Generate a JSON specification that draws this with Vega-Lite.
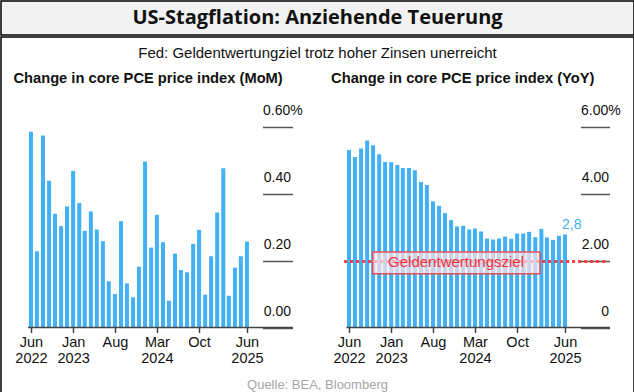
{
  "$schema": "https://vega.github.io/schema/vega-lite/v6.json",
  "padding": 0,
  "background": "white",
  "spacing": 0,
  "config": {"view": {"stroke": null}},
  "datasets": {
    "mom": [
      {"date": "2022-06-01", "v": 0.585}, {"date": "2022-07-01", "v": 0.228}, {"date": "2022-08-01", "v": 0.574},
      {"date": "2022-09-01", "v": 0.439}, {"date": "2022-10-01", "v": 0.340}, {"date": "2022-11-01", "v": 0.303},
      {"date": "2022-12-01", "v": 0.362}, {"date": "2023-01-01", "v": 0.468}, {"date": "2023-02-01", "v": 0.372},
      {"date": "2023-03-01", "v": 0.289}, {"date": "2023-04-01", "v": 0.347}, {"date": "2023-05-01", "v": 0.293},
      {"date": "2023-06-01", "v": 0.258}, {"date": "2023-07-01", "v": 0.138}, {"date": "2023-08-01", "v": 0.100},
      {"date": "2023-09-01", "v": 0.318}, {"date": "2023-10-01", "v": 0.132}, {"date": "2023-11-01", "v": 0.090},
      {"date": "2023-12-01", "v": 0.182}, {"date": "2024-01-01", "v": 0.496}, {"date": "2024-02-01", "v": 0.239},
      {"date": "2024-03-01", "v": 0.337}, {"date": "2024-04-01", "v": 0.255}, {"date": "2024-05-01", "v": 0.080},
      {"date": "2024-06-01", "v": 0.221}, {"date": "2024-07-01", "v": 0.172}, {"date": "2024-08-01", "v": 0.165},
      {"date": "2024-09-01", "v": 0.250}, {"date": "2024-10-01", "v": 0.292}, {"date": "2024-11-01", "v": 0.098},
      {"date": "2024-12-01", "v": 0.213}, {"date": "2025-01-01", "v": 0.344}, {"date": "2025-02-01", "v": 0.476},
      {"date": "2025-03-01", "v": 0.095}, {"date": "2025-04-01", "v": 0.179}, {"date": "2025-05-01", "v": 0.213},
      {"date": "2025-06-01", "v": 0.257}
    ],
    "yoy": [
      {"date": "2022-06-01", "v": 5.31}, {"date": "2022-07-01", "v": 5.10}, {"date": "2022-08-01", "v": 5.35},
      {"date": "2022-09-01", "v": 5.59}, {"date": "2022-10-01", "v": 5.45}, {"date": "2022-11-01", "v": 5.18},
      {"date": "2022-12-01", "v": 4.95}, {"date": "2023-01-01", "v": 4.94}, {"date": "2023-02-01", "v": 4.86},
      {"date": "2023-03-01", "v": 4.77}, {"date": "2023-04-01", "v": 4.77}, {"date": "2023-05-01", "v": 4.70},
      {"date": "2023-06-01", "v": 4.35}, {"date": "2023-07-01", "v": 4.26}, {"date": "2023-08-01", "v": 3.77},
      {"date": "2023-09-01", "v": 3.64}, {"date": "2023-10-01", "v": 3.42}, {"date": "2023-11-01", "v": 3.21},
      {"date": "2023-12-01", "v": 3.02}, {"date": "2024-01-01", "v": 3.04}, {"date": "2024-02-01", "v": 2.93},
      {"date": "2024-03-01", "v": 2.96}, {"date": "2024-04-01", "v": 2.87}, {"date": "2024-05-01", "v": 2.66},
      {"date": "2024-06-01", "v": 2.63}, {"date": "2024-07-01", "v": 2.66}, {"date": "2024-08-01", "v": 2.72},
      {"date": "2024-09-01", "v": 2.65}, {"date": "2024-10-01", "v": 2.81}, {"date": "2024-11-01", "v": 2.81},
      {"date": "2024-12-01", "v": 2.86}, {"date": "2025-01-01", "v": 2.70}, {"date": "2025-02-01", "v": 2.95},
      {"date": "2025-03-01", "v": 2.69}, {"date": "2025-04-01", "v": 2.62}, {"date": "2025-05-01", "v": 2.74},
      {"date": "2025-06-01", "v": 2.78}
    ]
  },
  "vconcat": [
    {
      "width": 633,
      "height": 34,
      "view": {"fill": "#f2f2f2", "stroke": "#000000", "strokeWidth": 1.5},
      "data": {"values": [{}]},
      "mark": {"type": "text", "text": "US-Stagflation: Anziehende Teuerung", "font": "Open Sans", "fontWeight": "bold", "fontSize": 20, "color": "#111111", "baseline": "middle", "align": "center"},
      "encoding": {}
    },
    {
      "width": 633,
      "height": 357,
      "view": {"fill": "white", "stroke": "#000000", "strokeWidth": 1.5},
      "resolve": {"scale": {"x": "independent", "y": "independent"}},
      "layer": [
        {
          "data": {"name": "mom"},
          "mark": {"type": "bar", "width": 4, "color": "#41b0f4"},
          "encoding": {
            "x": {"field": "date", "type": "temporal",
              "scale": {"type": "utc", "nice": false, "padding": 0, "domain": [{"year": 2021, "month": 12, "date": 31, "utc": true}, {"year": 2030, "month": 10, "date": 17, "utc": true}]},
              "axis": {"orient": "bottom", "offset": -66.5, "domain": false, "grid": false, "title": null,
                "values": [{"year": 2022, "month": 6, "date": 1, "utc": true}, {"year": 2023, "month": 1, "date": 1, "utc": true}, {"year": 2023, "month": 8, "date": 1, "utc": true}, {"year": 2024, "month": 3, "date": 1, "utc": true}, {"year": 2024, "month": 10, "date": 1, "utc": true}, {"year": 2025, "month": 6, "date": 1, "utc": true}],
                "labelExpr": "(utcmonth(datum.value) == 7 || utcmonth(datum.value) == 9) ? utcFormat(datum.value, '%b') : [utcFormat(datum.value, '%b'), utcFormat(datum.value, '%Y')]",
                "tickSize": 5, "tickColor": "#444444", "tickWidth": 1.5,
                "labelFont": "Liberation Sans", "labelFontSize": 14.5, "labelColor": "#111111", "labelPadding": 3, "labelLineHeight": 16,
                "labelFlush": false, "labelOverlap": false, "labelBound": false}},
            "y": {"field": "v", "type": "quantitative",
              "scale": {"nice": false, "zero": false, "padding": 0, "domain": [-0.1988, 0.8685]},
              "axis": {"orient": "right", "offset": -371.5, "domain": false, "grid": false, "title": null,
                "values": [0, 0.2, 0.4], "tickSize": 30, "tickColor": "#555555", "tickWidth": 1.5,
                "labelExpr": "format(datum.value, '.2f')",
                "labelAlign": "right", "labelPadding": -2,
                "labelBaseline": "alphabetic", "labelOffset": -12,
                "labelFont": "Liberation Sans", "labelFontSize": 14, "labelColor": "#111111", "labelBound": false, "labelOverlap": false, "labelFlush": false}}
          }
        },
        {
          "data": {"values": [{}]},
          "mark": {"type": "rule", "color": "#444444", "strokeWidth": 1.5},
          "encoding": {
            "x": {"datum": {"year": 2022, "month": 5, "date": 17, "utc": true}, "type": "temporal", "axis": null,
              "scale": {"type": "utc", "nice": false, "padding": 0, "domain": [{"year": 2021, "month": 12, "date": 31, "utc": true}, {"year": 2030, "month": 10, "date": 17, "utc": true}]}},
            "x2": {"datum": {"year": 2026, "month": 1, "date": 20, "utc": true}},
            "y": {"datum": 0, "type": "quantitative", "scale": {"nice": false, "zero": false, "padding": 0, "domain": [-0.1988, 0.8685]},
              "axis": {"orient": "right", "offset": -371.5, "domain": false, "grid": false, "title": null,
                "values": [0.6], "tickSize": 30, "tickColor": "#555555", "tickWidth": 1.5,
                "labelExpr": "'0.60%'",
                "labelAlign": "left", "labelPadding": -30,
                "labelBaseline": "alphabetic", "labelOffset": -12,
                "labelFont": "Liberation Sans", "labelFontSize": 14, "labelColor": "#111111", "labelBound": false, "labelOverlap": false, "labelFlush": false}}
          }
        },
        {
          "data": {"values": [{}]},
          "mark": {"type": "text", "text": "Change in core PCE price index (MoM)", "align": "left", "baseline": "alphabetic", "font": "Liberation Sans", "fontWeight": "bold", "fontSize": 14.7, "color": "#111111"},
          "encoding": {
            "x": {"datum": {"year": 2022, "month": 3, "date": 4, "utc": true}, "type": "temporal", "axis": null,
              "scale": {"type": "utc", "nice": false, "padding": 0, "domain": [{"year": 2021, "month": 12, "date": 31, "utc": true}, {"year": 2030, "month": 10, "date": 17, "utc": true}]}},
            "y": {"datum": 0.7324, "type": "quantitative", "axis": null, "scale": {"nice": false, "zero": false, "padding": 0, "domain": [-0.1988, 0.8685]}}
          }
        },
        {
          "data": {"values": [{}]},
          "mark": {"type": "text", "text": "Fed: Geldentwertungziel trotz hoher Zinsen unerreicht", "align": "center", "baseline": "alphabetic", "font": "Liberation Sans", "fontSize": 15, "color": "#111111"},
          "encoding": {
            "y": {"datum": 0.8072, "type": "quantitative", "axis": null, "scale": {"nice": false, "zero": false, "padding": 0, "domain": [-0.1988, 0.8685]}}
          }
        },
        {
          "data": {"values": [{}]},
          "mark": {"type": "text", "text": "Quelle: BEA, Bloomberg", "align": "center", "baseline": "alphabetic", "font": "Liberation Sans", "fontSize": 13, "color": "#a6a6a6"},
          "encoding": {
            "y": {"datum": -0.1839, "type": "quantitative", "axis": null, "scale": {"nice": false, "zero": false, "padding": 0, "domain": [-0.1988, 0.8685]}}
          }
        },
        {
          "data": {"name": "yoy"},
          "mark": {"type": "bar", "width": 4, "color": "#41b0f4"},
          "encoding": {
            "x": {"field": "date", "type": "temporal",
              "scale": {"type": "utc", "nice": false, "padding": 0, "domain": [{"year": 2017, "month": 7, "date": 31, "utc": true}, {"year": 2026, "month": 5, "date": 17, "utc": true}]},
              "axis": {"orient": "bottom", "offset": -66.5, "domain": false, "grid": false, "title": null,
                "values": [{"year": 2022, "month": 6, "date": 1, "utc": true}, {"year": 2023, "month": 1, "date": 1, "utc": true}, {"year": 2023, "month": 8, "date": 1, "utc": true}, {"year": 2024, "month": 3, "date": 1, "utc": true}, {"year": 2024, "month": 10, "date": 1, "utc": true}, {"year": 2025, "month": 6, "date": 1, "utc": true}],
                "labelExpr": "(utcmonth(datum.value) == 7 || utcmonth(datum.value) == 9) ? utcFormat(datum.value, '%b') : [utcFormat(datum.value, '%b'), utcFormat(datum.value, '%Y')]",
                "tickSize": 5, "tickColor": "#444444", "tickWidth": 1.5,
                "labelFont": "Liberation Sans", "labelFontSize": 14.5, "labelColor": "#111111", "labelPadding": 3, "labelLineHeight": 16,
                "labelFlush": false, "labelOverlap": false, "labelBound": false}},
            "y": {"field": "v", "type": "quantitative",
              "scale": {"nice": false, "zero": false, "padding": 0, "domain": [-1.988, 8.685]},
              "axis": {"orient": "right", "offset": -53.5, "domain": false, "grid": false, "title": null,
                "values": [0, 2, 4], "tickSize": 29, "tickColor": "#555555", "tickWidth": 1.5,
                "labelExpr": "datum.value == 0 ? '0' : format(datum.value, '.2f')",
                "labelAlign": "right", "labelPadding": -1,
                "labelBaseline": "alphabetic", "labelOffset": -12,
                "labelFont": "Liberation Sans", "labelFontSize": 14, "labelColor": "#111111", "labelBound": false, "labelOverlap": false, "labelFlush": false}}
          }
        },
        {
          "data": {"values": [{}]},
          "mark": {"type": "rule", "color": "#444444", "strokeWidth": 1.5},
          "encoding": {
            "x": {"datum": {"year": 2022, "month": 5, "date": 19, "utc": true}, "type": "temporal", "axis": null,
              "scale": {"type": "utc", "nice": false, "padding": 0, "domain": [{"year": 2017, "month": 7, "date": 31, "utc": true}, {"year": 2026, "month": 5, "date": 17, "utc": true}]}},
            "x2": {"datum": {"year": 2026, "month": 1, "date": 15, "utc": true}},
            "y": {"datum": 0, "type": "quantitative", "scale": {"nice": false, "zero": false, "padding": 0, "domain": [-1.988, 8.685]},
              "axis": {"orient": "right", "offset": -53.5, "domain": false, "grid": false, "title": null,
                "values": [6], "tickSize": 29, "tickColor": "#555555", "tickWidth": 1.5,
                "labelExpr": "'6.00%'",
                "labelAlign": "left", "labelPadding": -29,
                "labelBaseline": "alphabetic", "labelOffset": -12,
                "labelFont": "Liberation Sans", "labelFontSize": 14, "labelColor": "#111111", "labelBound": false, "labelOverlap": false, "labelFlush": false}}
          }
        },
        {
          "data": {"values": [{}]},
          "mark": {"type": "rule", "color": "#ff3b3b", "strokeWidth": 3, "strokeDash": [3, 3]},
          "encoding": {
            "x": {"datum": {"year": 2022, "month": 5, "date": 7, "utc": true}, "type": "temporal", "axis": null,
              "scale": {"type": "utc", "nice": false, "padding": 0, "domain": [{"year": 2017, "month": 7, "date": 31, "utc": true}, {"year": 2026, "month": 5, "date": 17, "utc": true}]}},
            "x2": {"datum": {"year": 2025, "month": 12, "date": 26, "utc": true}},
            "y": {"datum": 1.97, "type": "quantitative", "axis": null, "scale": {"nice": false, "zero": false, "padding": 0, "domain": [-1.988, 8.685]}}
          }
        },
        {
          "data": {"values": [{}]},
          "mark": {"type": "rect", "fill": "#ffe6e8", "fillOpacity": 0.7, "stroke": "#e5505c", "strokeWidth": 1.5},
          "encoding": {
            "x": {"datum": {"year": 2022, "month": 9, "date": 29, "utc": true}, "type": "temporal", "axis": null,
              "scale": {"type": "utc", "nice": false, "padding": 0, "domain": [{"year": 2017, "month": 7, "date": 31, "utc": true}, {"year": 2026, "month": 5, "date": 17, "utc": true}]}},
            "x2": {"datum": {"year": 2025, "month": 1, "date": 25, "utc": true}},
            "y": {"datum": 2.26, "type": "quantitative", "axis": null, "scale": {"nice": false, "zero": false, "padding": 0, "domain": [-1.988, 8.685]}},
            "y2": {"datum": 1.61}
          }
        },
        {
          "data": {"values": [{}]},
          "mark": {"type": "text", "text": "Geldentwertungsziel", "align": "center", "baseline": "middle", "font": "Liberation Sans", "fontSize": 15, "color": "#f2333f"},
          "encoding": {
            "x": {"datum": {"year": 2023, "month": 11, "date": 26, "utc": true}, "type": "temporal", "axis": null,
              "scale": {"type": "utc", "nice": false, "padding": 0, "domain": [{"year": 2017, "month": 7, "date": 31, "utc": true}, {"year": 2026, "month": 5, "date": 17, "utc": true}]}},
            "y": {"datum": 1.95, "type": "quantitative", "axis": null, "scale": {"nice": false, "zero": false, "padding": 0, "domain": [-1.988, 8.685]}}
          }
        },
        {
          "data": {"values": [{}]},
          "mark": {"type": "text", "text": "2,8", "align": "left", "baseline": "alphabetic", "dx": -3, "dy": -6, "font": "Liberation Sans", "fontSize": 14, "color": "#41b0f4"},
          "encoding": {
            "x": {"datum": {"year": 2025, "month": 6, "date": 1, "utc": true}, "type": "temporal", "axis": null,
              "scale": {"type": "utc", "nice": false, "padding": 0, "domain": [{"year": 2017, "month": 7, "date": 31, "utc": true}, {"year": 2026, "month": 5, "date": 17, "utc": true}]}},
            "y": {"datum": 2.78, "type": "quantitative", "axis": null, "scale": {"nice": false, "zero": false, "padding": 0, "domain": [-1.988, 8.685]}}
          }
        },
        {
          "data": {"values": [{}]},
          "mark": {"type": "text", "text": "Change in core PCE price index (YoY)", "align": "left", "baseline": "alphabetic", "font": "Liberation Sans", "fontWeight": "bold", "fontSize": 14.7, "color": "#111111"},
          "encoding": {
            "x": {"datum": {"year": 2022, "month": 3, "date": 2, "utc": true}, "type": "temporal", "axis": null,
              "scale": {"type": "utc", "nice": false, "padding": 0, "domain": [{"year": 2017, "month": 7, "date": 31, "utc": true}, {"year": 2026, "month": 5, "date": 17, "utc": true}]}},
            "y": {"datum": 7.324, "type": "quantitative", "axis": null, "scale": {"nice": false, "zero": false, "padding": 0, "domain": [-1.988, 8.685]}}
          }
        }
      ]
    }
  ]
}
